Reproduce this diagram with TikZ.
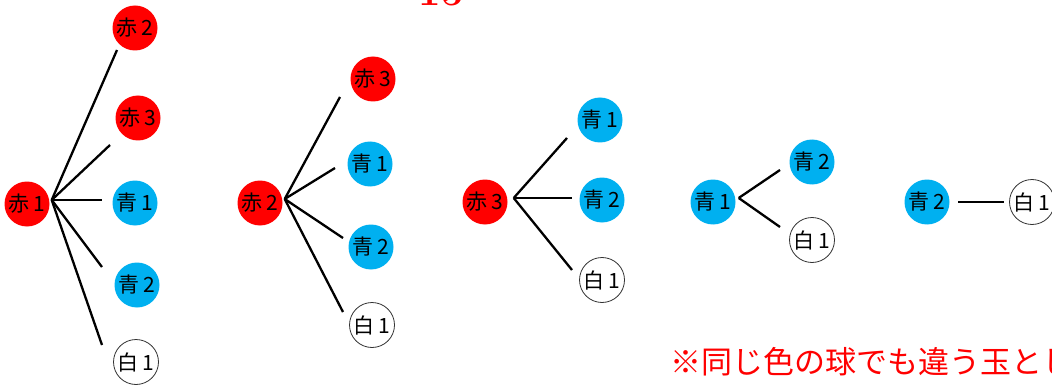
\documentclass[tikz,border=0pt]{standalone}
\usepackage{fontspec}
\newfontfamily\cjk{Noto Sans CJK JP}
\definecolor{ballred}{RGB}{255,0,0}
\definecolor{ballblue}{RGB}{0,176,240}
\begin{document}
\begin{tikzpicture}[x=1pt,y=-1pt,
  ball/.style={circle,minimum size=45pt,inner sep=0pt,font=\cjk\fontsize{21}{21}\selectfont},
  redball/.style={ball,fill=ballred},
  blueball/.style={ball,fill=ballblue},
  whiteball/.style={ball,draw=black!80,line width=0.8pt,fill=white},
  edge/.style={line width=2.3pt,black}]
\useasboundingbox[fill=white] (0,0) rectangle (1052,385);
% title (cut off)
\node[anchor=base,text=ballred,font=\fontsize{40}{40}\selectfont\bfseries] (title) at (441,6) {15};
% tree 1
\node[redball] (a0) at (27,204) {赤\,1};
\node[redball] (a1) at (135,28) {赤\,2};
\node[redball] (a2) at (138,118) {赤\,3};
\node[blueball] (a3) at (135,203) {青\,1};
\node[blueball] (a4) at (137,285) {青\,2};
\node[whiteball] (a5) at (136,362) {白\,1};
\coordinate (ae1) at (117,50);
\coordinate (ae2) at (110,145);
\coordinate (ae3) at (102,200);
\coordinate (ae4) at (102,267);
\coordinate (ae5) at (102,345);
\foreach \i in {1,...,5} \draw[edge] ([shift={(2pt,4pt)}]a0.east) -- (ae\i);
% tree 2
\node[redball] (b0) at (260,203) {赤\,2};
\node[redball] (b1) at (373,79) {赤\,3};
\node[blueball] (b2) at (370,164) {青\,1};
\node[blueball] (b3) at (371,247) {青\,2};
\node[whiteball] (b4) at (372,325) {白\,1};
\coordinate (be1) at (340,97);
\coordinate (be2) at (335,168);
\coordinate (be3) at (343,238);
\coordinate (be4) at (343,312);
\foreach \i in {1,...,4} \draw[edge] ([shift={(2pt,4pt)}]b0.east) -- (be\i);
% tree 3
\node[redball] (c0) at (485,202) {赤\,3};
\node[blueball] (c1) at (600,120) {青\,1};
\node[blueball] (c2) at (602,200) {青\,2};
\node[whiteball] (c3) at (602,280) {白\,1};
\coordinate (ce1) at (567,138);
\coordinate (ce2) at (572,198);
\coordinate (ce3) at (572,270);
\foreach \i in {1,...,3} \draw[edge] ([shift={(6pt,4pt)}]c0.east) -- (ce\i);
% tree 4
\node[blueball] (d0) at (713,202) {青\,1};
\node[blueball] (d1) at (812,162) {青\,2};
\node[whiteball] (d2) at (812,240) {白\,1};
\coordinate (de1) at (780,170);
\coordinate (de2) at (780,227);
\foreach \i in {1,2} \draw[edge] ([shift={(3pt,4pt)}]d0.east) -- (de\i);
% tree 5
\node[blueball] (e0) at (927,202) {青\,2};
\node[whiteball] (e1) at (1032,202) {白\,1};
\coordinate (es) at (958,202);
\coordinate (ee) at (1004,202);
\draw[edge] (es) -- (ee);
% note (cut off)
\node[anchor=base west,inner sep=0pt,text=ballred,font=\cjk\fontsize{31}{31}\selectfont] (note) at (670,373) {※同じ色の球でも違う玉として};
\end{tikzpicture}
\end{document}
